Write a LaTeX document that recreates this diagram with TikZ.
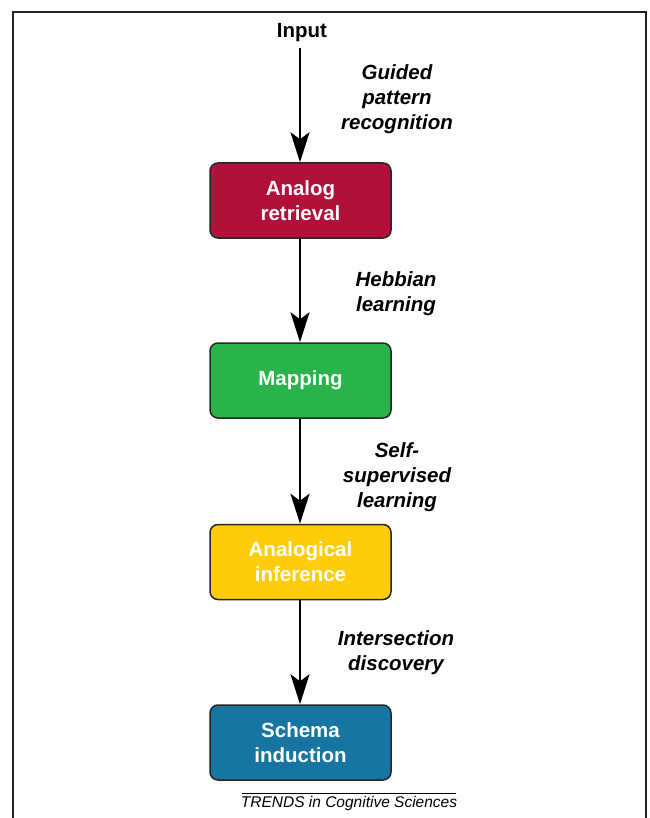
\documentclass[tikz,border=0pt]{standalone}
\usepackage{fontspec}
\setmainfont{Liberation Sans}
\usetikzlibrary{arrows.meta}
\definecolor{crimson}{HTML}{B0103A}
\definecolor{mapgreen}{HTML}{2BB34B}
\definecolor{infyellow}{HTML}{FFCC0A}
\definecolor{schemablue}{HTML}{1775A3}
\definecolor{framegray}{HTML}{222222}
\begin{document}
\begin{tikzpicture}[x=1pt,y=-1pt,
  stagebox/.style={draw=black!85,line width=1.5pt,rounded corners=8pt,minimum width=181pt,minimum height=75pt,
    align=center,text=white,font=\fontsize{20.5}{25}\selectfont\bfseries,inner sep=0pt},
  proclabel/.style={align=center,font=\fontsize{20.5}{25}\selectfont\bfseries\itshape,inner sep=0pt},
  flow/.style={line width=2.4pt,-{Stealth[length=30pt,width=19pt,inset=7pt]}}]
\useasboundingbox (0,0) rectangle (649,818);
% frame
\draw[framegray,line width=1.8pt] (13,818) -- (13,12) -- (646,12) -- (646,818);
% nodes
\node[font=\fontsize{20.5}{25}\selectfont\bfseries,inner sep=0pt] (input) at (302,33) {Input};
\coordinate (inbot) at (300,48);
\node[stagebox,fill=crimson] (retr) at (300.5,200.5) {Analog\\retrieval};
\node[stagebox,fill=mapgreen] (map) at (300.5,380.5) {Mapping};
\node[stagebox,fill=infyellow] (inf) at (300.5,562) {Analogical\\inference};
\node[stagebox,fill=schemablue] (schema) at (300.5,742.5) {Schema\\induction};
% arrows
\draw[flow] (inbot) -- (retr.north -| inbot);
\draw[flow] (retr.south -| inbot) -- (map.north -| inbot);
\draw[flow] (map.south -| inbot) -- (inf.north -| inbot);
\draw[flow] (inf.south -| inbot) -- (schema.north -| inbot);
% labels
\node[proclabel] (l1) at (397,99) {Guided\\pattern\\recognition};
\node[proclabel] (l2) at (396,294) {Hebbian\\learning};
\node[proclabel] (l3) at (397,477) {Self-\\supervised\\learning};
\node[proclabel] (l4) at (396,653) {Intersection\\discovery};
% footer
\coordinate (fl) at (242,793);
\coordinate (fr) at (456,793);
\draw[line width=0.8pt] (fl) -- (fr);
\node[font=\fontsize{15.5}{18}\selectfont\itshape,inner sep=0pt] (trends) at (349,803) {TRENDS in Cognitive Sciences};
\end{tikzpicture}
\end{document}
